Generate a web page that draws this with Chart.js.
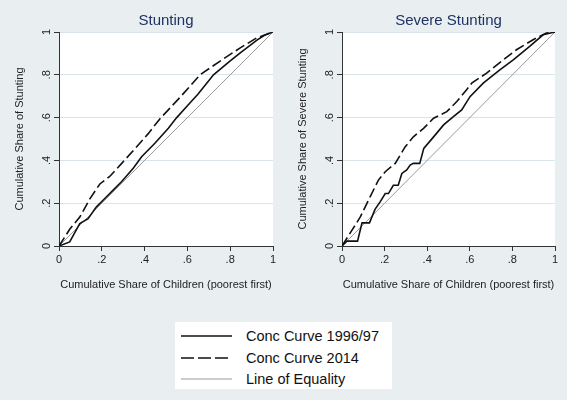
<!DOCTYPE html>
<html>
<head>
<meta charset="utf-8">
<script src="https://cdn.jsdelivr.net/npm/chart.js@4.4.0/dist/chart.umd.min.js"></script>
<style>
  body { margin: 0; width: 567px; height: 400px; overflow: hidden; background: #e9eff1;
         font-family: "Liberation Sans", Arial, sans-serif; }
  canvas { position: absolute; top: 0; }
  #stunting { left: 0; }
  #severe { left: 283px; }
  .legend { position: absolute; left: 175px; top: 322px; width: 217px; height: 67px; background: #fff; }
  .legend svg { position: absolute; left: 0; }
  .legend span { position: absolute; left: 71px; font-size: 14.5px; color: #111; line-height: 16px; }
</style>
</head>
<body>
<canvas id="stunting" width="283" height="300"></canvas>
<canvas id="severe" width="284" height="300"></canvas>

<div class="legend">
  <svg width="70" height="67">
    <line x1="6" y1="14" x2="57" y2="14" stroke="#111" stroke-width="1.6"/>
    <line x1="6" y1="36" x2="57" y2="36" stroke="#111" stroke-width="1.6" stroke-dasharray="13 4"/>
    <line x1="6" y1="57" x2="57" y2="57" stroke="#999" stroke-width="1"/>
  </svg>
  <span style="top:6px">Conc Curve 1996/97</span>
  <span style="top:28px">Conc Curve 2014</span>
  <span style="top:49px">Line of Equality</span>
</div>

<script>
const FONT = '"Liberation Sans", Arial, sans-serif';

// axis ticks
const tickValues = [0, 0.2, 0.4, 0.6, 0.8, 1];
const tickLabels = ['0', '.2', '.4', '.6', '.8', '1'];

// line of equality
const equalX = [0, 1];
const equalY = [0, 1];

// Stunting, 1996/97
const stuntX96 = [0, 0.05, 0.097, 0.136, 0.175, 0.214, 0.253, 0.292, 0.347, 0.386, 0.448, 0.511, 0.55, 0.6, 0.65, 0.722, 0.8, 0.85, 0.925, 0.96, 1];
const stuntY96 = [0, 0.019, 0.105, 0.128, 0.183, 0.222, 0.261, 0.30, 0.363, 0.417, 0.48, 0.55, 0.6, 0.655, 0.71, 0.8, 0.865, 0.905, 0.962, 0.985, 1];

// Stunting, 2014
const stuntX14 = [0, 0.05, 0.097, 0.144, 0.191, 0.237, 0.292, 0.355, 0.417, 0.472, 0.566, 0.659, 0.753, 0.847, 0.925, 1];
const stuntY14 = [0, 0.078, 0.135, 0.22, 0.29, 0.325, 0.385, 0.455, 0.525, 0.595, 0.695, 0.8, 0.864, 0.926, 0.973, 1];

// Severe stunting, 1996/97
const sevX96 = [0, 0.023, 0.073, 0.094, 0.129, 0.155, 0.179, 0.203, 0.218, 0.241, 0.264, 0.281, 0.304, 0.32, 0.335, 0.365, 0.384, 0.43, 0.477, 0.523, 0.562, 0.601, 0.663, 0.741, 0.804, 0.881, 0.944, 1];
const sevY96 = [0, 0.023, 0.023, 0.108, 0.108, 0.171, 0.206, 0.245, 0.245, 0.284, 0.284, 0.339, 0.355, 0.378, 0.386, 0.386, 0.456, 0.51, 0.566, 0.605, 0.636, 0.698, 0.761, 0.823, 0.87, 0.933, 0.987, 1];

// Severe stunting, 2014
const sevX14 = [0, 0.047, 0.086, 0.132, 0.171, 0.203, 0.25, 0.297, 0.335, 0.383, 0.43, 0.492, 0.539, 0.585, 0.609, 0.679, 0.757, 0.819, 0.897, 0.96, 1];
const sevY14 = [0, 0.074, 0.136, 0.23, 0.308, 0.347, 0.386, 0.464, 0.51, 0.55, 0.597, 0.628, 0.675, 0.73, 0.761, 0.808, 0.87, 0.917, 0.964, 0.995, 1];

const plotBg = {
  id: 'plotBg',
  beforeDraw(chart) {
    const { ctx, chartArea: a } = chart;
    ctx.save();
    ctx.fillStyle = '#ffffff';
    ctx.fillRect(a.left, a.top, a.right - a.left, a.bottom - a.top);
    ctx.restore();
  }
};

function pts(xs, ys) {
  return xs.map((x, i) => ({ x: x, y: ys[i] }));
}

function makePanel(id, title, yTitle, x96, y96, x14, y14, padRight) {
  return new Chart(document.getElementById(id), {
    type: 'line',
    data: {
      datasets: [
        { label: 'Conc Curve 1996/97', data: pts(x96, y96), borderColor: '#111', borderWidth: 1.6 },
        { label: 'Conc Curve 2014', data: pts(x14, y14), borderColor: '#111', borderWidth: 1.6, borderDash: [10, 4] },
        { label: 'Line of Equality', data: pts(equalX, equalY), borderColor: '#9a9a9a', borderWidth: 1 }
      ]
    },
    options: {
      responsive: false,
      animation: false,
      devicePixelRatio: 1,
      elements: { point: { radius: 0 }, line: { tension: 0 } },
      layout: { padding: { top: 0, right: padRight, bottom: 0, left: 0 } },
      plugins: {
        legend: { display: false },
        tooltip: { enabled: false },
        title: {
          display: true, text: title, fullSize: false, color: '#1e3264',
          font: { family: FONT, size: 15, weight: 'normal' },
          padding: { top: 12, bottom: 2 }
        }
      },
      scales: {
        x: {
          type: 'linear', min: 0, max: 1,
          afterBuildTicks: s => { s.ticks = tickValues.map(v => ({ value: v })); },
          afterFit: s => { s.height = 54; },
          ticks: { callback: (v, i) => tickLabels[i], color: '#222', font: { family: FONT, size: 11 }, padding: 2, maxRotation: 0 },
          grid: { drawOnChartArea: false, tickLength: 5, tickColor: '#333' },
          border: { color: '#333', width: 1 },
          title: {
            display: true, text: 'Cumulative Share of Children (poorest first)', color: '#222',
            font: { family: FONT, size: 11 }, padding: { top: 4, bottom: 8 }
          }
        },
        y: {
          type: 'linear', min: 0, max: 1,
          afterBuildTicks: s => { s.ticks = tickValues.map(v => ({ value: v })); },
          afterFit: s => { s.width = 59; },
          ticks: {
            callback: (v, i) => tickLabels[i], color: '#222', font: { family: FONT, size: 11 },
            minRotation: 90, maxRotation: 90, crossAlign: 'center', padding: 2
          },
          grid: { color: '#d8e5ea', tickLength: 5, tickColor: '#333' },
          border: { color: '#333', width: 1 },
          title: {
            display: true, text: yTitle, color: '#222',
            font: { family: FONT, size: 11 }, padding: { top: 13, bottom: 0 }
          }
        }
      }
    },
    plugins: [plotBg]
  });
}

makePanel('stunting', 'Stunting', 'Cumulative Share of Stunting', stuntX96, stuntY96, stuntX14, stuntY14, 10);
makePanel('severe', 'Severe Stunting', 'Cumulative Share of Severe Stunting', sevX96, sevY96, sevX14, sevY14, 12);
</script>
</body>
</html>
